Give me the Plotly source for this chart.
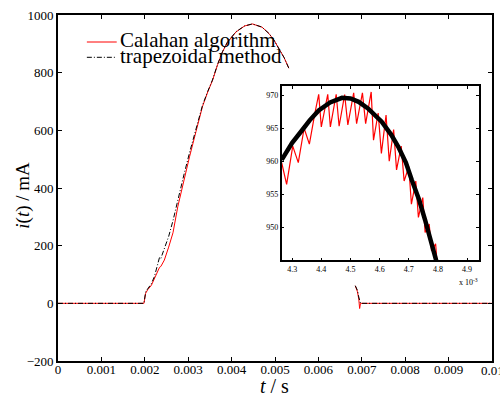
import plotly.graph_objects as go

# ---------------- data ----------------
# main plot: time (s), current (mA); None = gap in the recorded curves
t_main = [0, 0.00198, 0.00202, 0.00207, 0.00215, 0.00222, 0.00231, 0.00234, 0.00237,
          0.00245, 0.00255, 0.00265, 0.00276, 0.0029, 0.00303, 0.00318, 0.00333, 0.00345,
          0.00356, 0.00368, 0.00379, 0.0039, 0.0041, 0.0043, 0.00448, 0.0047, 0.00486,
          0.00498, 0.00509, 0.00521, 0.00532, 0.006, 0.00685, 0.0069, 0.00693, 0.00695,
          0.00697, 0.007, 0.01]
i_trapezoidal = [0, 0, 40, 52, 68, 92, 148, 160, 156, 188, 232, 287, 360, 445, 522, 605,
                 687, 735, 775, 830, 873, 905, 942, 962, 969, 958, 936, 912, 885, 852, 815,
                 None, 61, 45, 22, 6, 0, 0, 0]
i_calahan = [0, 0, 35, 48, 62, 85, 118, 125, 128, 150, 195, 245, 335, 428, 508, 596,
             683, 733, 773, 829, 872, 904, 941, 962, 969, 958, 936, 912, 885, 852, 815,
             None, 61, 40, 15, -18, 0, 0, 0]

# inset (zoom near the peak): time in ms (x 10^-3 s), current in mA
t_inset_trap = [4.264, 4.30, 4.334, 4.36, 4.391, 4.43, 4.471, 4.50, 4.528, 4.56, 4.607,
                4.64, 4.664, 4.69, 4.71, 4.735, 4.756, 4.775, 4.79, 4.80]
i_inset_trap = [960.2, 962.8, 964.7, 966.2, 967.7, 968.9, 969.6, 969.5, 969.0, 968.0, 966.0,
                964.0, 962.2, 959.8, 957.2, 954.2, 951.1, 948.3, 945.5, 944.0]
t_inset_cal = [4.264, 4.281, 4.302, 4.321, 4.341, 4.359, 4.378, 4.391, 4.400, 4.422, 4.431,
               4.451, 4.461, 4.480, 4.491, 4.511, 4.521, 4.541, 4.552, 4.571, 4.579, 4.595,
               4.606, 4.622, 4.633, 4.648, 4.658, 4.674, 4.684, 4.700, 4.709, 4.724, 4.733,
               4.748, 4.756, 4.770, 4.778, 4.792, 4.800]
i_inset_cal = [959.8, 956.5, 962.3, 959.8, 965.0, 962.6, 967.3, 970.15, 965.2, 970.15, 965.2,
               970.15, 965.3, 970.1, 965.5, 970.35, 965.7, 970.35, 965.7, 970.5, 963.2, 967.3,
               961.2, 967.0, 960.0, 964.8, 958.7, 962.3, 957.0, 959.2, 953.5, 957.0, 951.5,
               954.5, 949.2, 950.5, 946.4, 947.5, 943.0]

x_ticks = [0, 0.001, 0.002, 0.003, 0.004, 0.005, 0.006, 0.007, 0.008, 0.009, 0.01]
x_ticktext = ["0", "0.001", "0.002", "0.003", "0.004", "0.005", "0.006", "0.007", "0.008", "0.009", "0.01"]
y_ticks = [-200, 0, 200, 400, 600, 800, 1000]
inset_x_ticks = [4.3, 4.4, 4.5, 4.6, 4.7, 4.8, 4.9]
inset_y_ticks = [950, 955, 960, 965, 970]
legend_names = ["Calahan algorithm", "trapezoidal method"]

FONT = "Liberation Serif"
RED = "#ff0000"
DASHDOT = "5px,2px,1px,2px"

fig = go.Figure()
fig.add_trace(go.Scatter(x=t_main, y=i_calahan, mode="lines", line=dict(color=RED, width=1),
                         connectgaps=False, showlegend=False, xaxis="x", yaxis="y"))
fig.add_trace(go.Scatter(x=t_main, y=i_trapezoidal, mode="lines",
                         line=dict(color="black", width=1, dash=DASHDOT),
                         connectgaps=False, showlegend=False, xaxis="x", yaxis="y"))
fig.add_trace(go.Scatter(x=t_inset_cal, y=i_inset_cal, mode="lines",
                         line=dict(color=RED, width=1.2), showlegend=False,
                         xaxis="x2", yaxis="y2"))
fig.add_trace(go.Scatter(x=t_inset_trap, y=i_inset_trap, mode="lines",
                         line=dict(color="black", width=4.5), showlegend=False,
                         xaxis="x2", yaxis="y2"))

W, H = 500, 395
L, R, T, B = 58, 6, 15, 34
pw, ph = W - L - R, H - T - B


def px(xp):
    return (xp - L) / pw


def py(yp):
    return (H - B - yp) / ph


axis_common = dict(showline=True, linecolor="black", mirror="ticks", ticks="inside",
                   tickcolor="black", showgrid=False, zeroline=False)

# last tick label sits on the page edge: drawn as an annotation so it is clipped, not dropped
main_ticktext = x_ticktext[:-1] + [""]

fig.update_layout(
    width=W, height=H, margin=dict(l=L, r=R, t=T, b=B),
    paper_bgcolor="white", plot_bgcolor="white",
    font=dict(family=FONT, color="black"),
    xaxis=dict(domain=[0, 1], range=[0, 0.01], tickvals=x_ticks, ticktext=main_ticktext,
               linewidth=1.6, ticklen=4, tickwidth=1, tickfont=dict(size=13),
               ticklabelstandoff=-4, **axis_common),
    yaxis=dict(domain=[0, 1], range=[-200, 1000], tickvals=y_ticks,
               linewidth=1.6, ticklen=4, tickwidth=1, tickfont=dict(size=13), **axis_common),
    xaxis2=dict(domain=[px(282.7), px(480.7)], anchor="y2", range=[4.264, 4.94],
                tickvals=inset_x_ticks, tickformat=".1f", linewidth=1.5, ticklen=3,
                tickwidth=1, tickfont=dict(size=8), **axis_common),
    yaxis2=dict(domain=[py(260.3), py(86)], anchor="x2", range=[945, 971.4],
                tickvals=inset_y_ticks, linewidth=1.5, ticklen=3, tickwidth=1,
                tickfont=dict(size=8), **axis_common),
)

annotations = [
    dict(text=x_ticktext[-1], x=x_ticks[-1], xref="x", y=py(370.5), yref="paper",
         showarrow=False, font=dict(size=13), xanchor="center", yanchor="middle"),
    dict(text="<i>i</i>(<i>t</i>) / mA", x=px(22), y=py(195.5), xref="paper", yref="paper",
         textangle=-90, showarrow=False, font=dict(size=19), xanchor="center", yanchor="middle"),
    dict(text="<i>t</i> / s", x=px(275.5), y=py(386), xref="paper", yref="paper",
         showarrow=False, font=dict(size=20), xanchor="center", yanchor="middle"),
    dict(text="x 10<sup>-3</sup>", x=px(470.5), y=py(281.7), xref="paper", yref="paper",
         showarrow=False, font=dict(size=8), xanchor="center", yanchor="middle"),
    dict(text=legend_names[0], x=px(118), y=py(39.5), xref="paper", yref="paper",
         showarrow=False, font=dict(size=21), xanchor="left", yanchor="middle"),
    dict(text=legend_names[1], x=px(118), y=py(56), xref="paper", yref="paper",
         showarrow=False, font=dict(size=21), xanchor="left", yanchor="middle"),
]
fig.update_layout(annotations=annotations)

fig.add_shape(type="line", xref="paper", yref="paper", x0=px(87), x1=px(117),
              y0=py(42), y1=py(42), line=dict(color=RED, width=1))
fig.add_shape(type="line", xref="paper", yref="paper", x0=px(87), x1=px(117),
              y0=py(57.3), y1=py(57.3), line=dict(color="black", width=1, dash=DASHDOT))

fig.write_html("out.html")
